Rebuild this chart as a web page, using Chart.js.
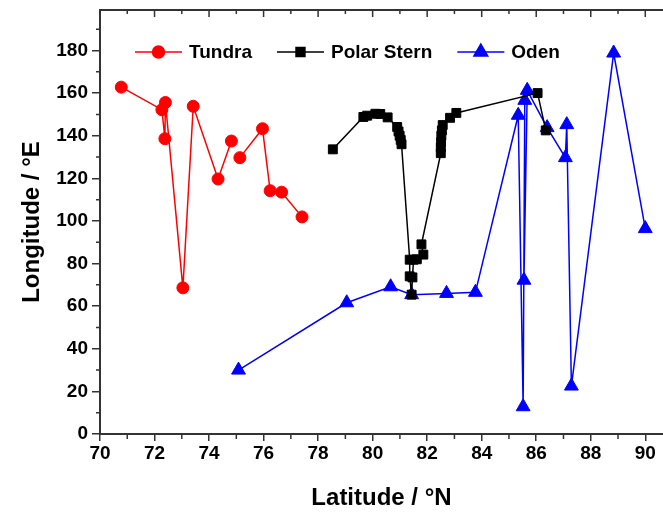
<!DOCTYPE html>
<html>
<head>
<meta charset="utf-8">
<script src="https://cdn.jsdelivr.net/npm/chart.js@4"></script>
<style>
  html, body { margin: 0; padding: 0; background: #fff; overflow: hidden; }
  canvas { display: block; }
</style>
</head>
<body>
<canvas id="chart" width="663" height="513"></canvas>
<script>
// Cruise tracks: longitude vs latitude for three expeditions

const xTicks = [70, 72, 74, 76, 78, 80, 82, 84, 86, 88, 90];
const yTicks = [0, 20, 40, 60, 80, 100, 120, 140, 160, 180];

// Tundra (null = break in the track)
const tundraLat = [70.78, 72.27, 72.38, 72.40, 73.04, 73.42, 74.33, 74.82, 74.95, 75.13, 75.96, 76.24, 76.66, 77.41];
const tundraLon = [162.8, 152.2, 138.6, 155.6, 68.6, 153.8, 119.7, 137.5, null, 129.7, 143.3, 114.2, 113.5, 101.9];

// Polar Stern
const polarLat = [78.54, 79.66, 79.80, 80.10, 80.28, 80.55, 80.90, 80.95, 80.99, 81.03, 81.06,
  81.36, 81.36, 81.43, 81.46, 81.50, 81.62, 81.86, 81.79,
  82.50, 82.50, 82.51, 82.52, 82.54, 82.57, 82.84, 83.07, 86.05, 86.35];
const polarLon = [133.6, 148.8, 149.4, 150.3, 150.2, 148.6, 144.1, 142.0, 140.0, 138.0, 136.0,
  81.8, 74.0, 65.4, 73.5, 81.8, 82.0, 84.2, 89.0,
  131.8, 134.5, 137.0, 140.0, 142.5, 145.0, 148.4, 150.7, 160.0, 142.5];

// Oden
const odenLat = [75.08, 79.05, 80.66, 81.43, 82.71, 83.77, 85.34, 85.52, 85.58, 85.55, 85.67, 86.40, 87.07, 87.12, 87.29, 88.84, 90.00];
const odenLon = [30.0, 61.6, 69.1, 65.4, 66.0, 66.5, 149.6, 12.8, 156.6, 72.2, 161.3, 143.8, 129.7, 145.2, 22.5, 178.8, 96.4];

const FONT = "'Liberation Sans', Arial, sans-serif";
const AXIS = '#333333';

function toPoints(xs, ys) {
  return xs.map((x, i) => ({ x, y: ys[i] }));
}

// minor ticks + inward ticks on the top frame
const frameTicks = {
  id: 'frameTicks',
  afterDraw(chart) {
    const { ctx, chartArea: a, scales: { x, y } } = chart;
    const xMinor = xTicks.map(v => v + 1).filter(v => v <= x.max);
    const yMinor = yTicks.map(v => v + 10).filter(v => v <= y.max);
    ctx.save();
    ctx.strokeStyle = AXIS;
    ctx.lineWidth = 1.5;
    ctx.beginPath();
    xMinor.forEach(v => {
      const px = x.getPixelForValue(v);
      ctx.moveTo(px, a.bottom); ctx.lineTo(px, a.bottom + 5);
      ctx.moveTo(px, a.top); ctx.lineTo(px, a.top + 4);
    });
    xTicks.forEach(v => {
      const px = x.getPixelForValue(v);
      ctx.moveTo(px, a.top); ctx.lineTo(px, a.top + 7);
    });
    yMinor.forEach(v => {
      const py = y.getPixelForValue(v);
      ctx.moveTo(a.left, py); ctx.lineTo(a.left - 4, py);
    });
    ctx.stroke();
    ctx.restore();
  }
};

// legend with line + symbol, laid out inside the plot
const lineLegend = {
  id: 'lineLegend',
  afterDraw(chart) {
    const { ctx } = chart;
    const yc = 52;
    let xs = 135;
    ctx.save();
    ctx.font = 'bold 19px ' + FONT;
    ctx.textBaseline = 'middle';
    chart.data.datasets.forEach(ds => {
      ctx.strokeStyle = ds.borderColor;
      ctx.fillStyle = ds.backgroundColor;
      ctx.lineWidth = ds.borderWidth;
      ctx.beginPath();
      ctx.moveTo(xs, yc); ctx.lineTo(xs + 47, yc);
      ctx.stroke();
      Chart.helpers.drawPoint(ctx, {
        pointStyle: ds.pointStyle, radius: ds.pointRadius, rotation: 0, borderWidth: 1
      }, xs + 23.5, yc);
      ctx.fillStyle = '#000';
      ctx.fillText(ds.label, xs + 54, yc + 1);
      xs += 54 + ctx.measureText(ds.label).width + 25;
    });
    ctx.restore();
  }
};

function series(label, color, style, radius, lat, lon) {
  return {
    label,
    data: toPoints(lat, lon),
    showLine: true,
    spanGaps: false,
    borderColor: color,
    backgroundColor: color,
    borderWidth: 1.5,
    pointStyle: style,
    pointRadius: radius,
    pointHoverRadius: radius,
    pointBorderWidth: 1
  };
}

new Chart(document.getElementById('chart').getContext('2d'), {
  type: 'scatter',
  data: {
    datasets: [
      series('Tundra', '#ff0000', 'circle', 6, tundraLat, tundraLon),
      series('Polar Stern', '#000000', 'rect', 6.3, polarLat, polarLon),
      series('Oden', '#0000ff', 'triangle', 8, odenLat, odenLon)
    ]
  },
  options: {
    responsive: false,
    animation: false,
    layout: { autoPadding: false, padding: 0 },
    plugins: {
      legend: { display: false },
      tooltip: { enabled: false }
    },
    scales: {
      x: {
        type: 'linear',
        position: 'bottom',
        min: 70,
        max: 90.65,
        afterBuildTicks: s => { s.ticks = xTicks.map(v => ({ value: v })); },
        afterFit: s => { s.height = 79; },
        grid: { drawOnChartArea: false, tickLength: 7, color: AXIS, lineWidth: 1.5 },
        border: { color: AXIS, width: 2 },
        ticks: { color: '#000', padding: 1, maxRotation: 0, font: { family: FONT, size: 19, weight: 'bold' } },
        title: {
          display: true, text: 'Latitude / °N', color: '#000',
          padding: { top: 0, bottom: 0 },
          font: { family: FONT, size: 24, weight: 'bold' }
        }
      },
      x2: {
        type: 'linear',
        position: 'top',
        min: 70,
        max: 90.65,
        afterFit: s => { s.height = 10; },
        grid: { display: false },
        border: { color: AXIS, width: 2 },
        ticks: { display: false }
      },
      y: {
        min: 0,
        max: 199,
        afterBuildTicks: s => { s.ticks = yTicks.map(v => ({ value: v })); },
        afterFit: s => { s.width = 100; s.paddingTop = 0; s.paddingBottom = 0; },
        grid: { drawOnChartArea: false, tickLength: 8, color: AXIS, lineWidth: 1.5 },
        border: { color: AXIS, width: 2 },
        ticks: { color: '#000', padding: 4, font: { family: FONT, size: 19, weight: 'bold' } },
        title: {
          display: true, text: 'Longitude / °E', color: '#000',
          padding: { top: 18, bottom: 0 },
          font: { family: FONT, size: 24, weight: 'bold' }
        }
      }
    }
  },
  plugins: [frameTicks, lineLegend]
});
</script>
</body>
</html>
